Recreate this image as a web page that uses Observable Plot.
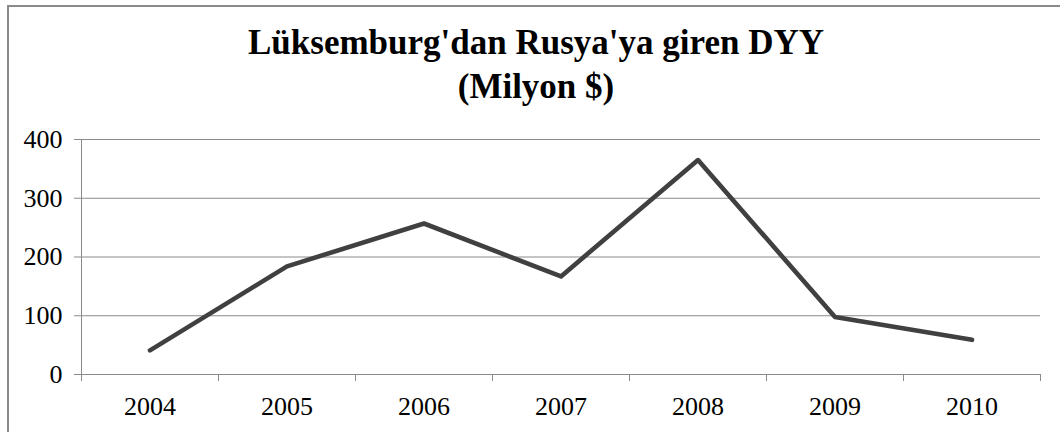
<!DOCTYPE html>
<html>
<head>
<meta charset="utf-8">
<script src="https://cdn.jsdelivr.net/npm/d3@7"></script>
<script src="https://cdn.jsdelivr.net/npm/@observablehq/plot@0.6"></script>
<style>
  html, body { margin: 0; padding: 0; background: #fff; }
  #wrap { position: relative; width: 1060px; height: 432px; overflow: hidden; font-family: "Liberation Serif", "Times New Roman", serif; }
  #frame { position: absolute; left: 7px; top: 5px; width: 1200px; height: 600px; border-left: 2px solid #8a8a8a; border-top: 2px solid #8a8a8a; box-sizing: border-box; }
  #title { position: relative; height: 120px; box-sizing: border-box; padding-top: 21px; padding-left: 12px; text-align: center; font-weight: bold; font-size: 35px; line-height: 44px; color: #000; }
  #chart { position: relative; }
</style>
</head>
<body>
<div id="wrap">
  <div id="frame"></div>
  <div id="title">Lüksemburg'dan Rusya'ya giren DYY<br>(Milyon $)</div>
  <div id="chart"></div>
</div>
<script>
const years = [2004, 2005, 2006, 2007, 2008, 2009, 2010];
const values = [41, 184, 257, 167, 365, 98, 59];
const yTicks = [0, 100, 200, 300, 400];

const data = years.map((year, i) => ({year, value: values[i]}));
const boundaries = years.map(y => y - 0.5).concat([years[years.length - 1] + 0.5]);
const gridColor = "#8a8a8a";

const plot = Plot.plot({
  width: 1060,
  height: 312,
  marginLeft: 81,
  marginRight: 20,
  marginTop: 19,
  marginBottom: 58,
  style: {fontFamily: "'Liberation Serif', 'Times New Roman', serif", fontSize: "26px", color: "#000", background: "transparent"},
  x: {domain: [boundaries[0], boundaries[boundaries.length - 1]]},
  y: {domain: [0, 400]},
  marks: [
    Plot.gridY(yTicks, {stroke: gridColor, strokeOpacity: 1, strokeWidth: 1}),
    Plot.ruleX([boundaries[0]], {stroke: gridColor, strokeWidth: 1}),
    Plot.axisY(yTicks, {tickSize: 7, tickPadding: 12, stroke: gridColor, fill: "#000", fontSize: 26, label: null}),
    Plot.axisX(boundaries, {tickSize: 7, stroke: gridColor, text: null, label: null}),
    Plot.axisX(years, {tickSize: 0, tickPadding: 22, tickFormat: d => String(d), fill: "#000", fontSize: 26, label: null}),
    Plot.line(data, {x: "year", y: "value", stroke: "#404040", strokeWidth: 4.6, strokeLinejoin: "round", strokeLinecap: "round"})
  ]
});
document.getElementById("chart").appendChild(plot);
</script>
</body>
</html>
